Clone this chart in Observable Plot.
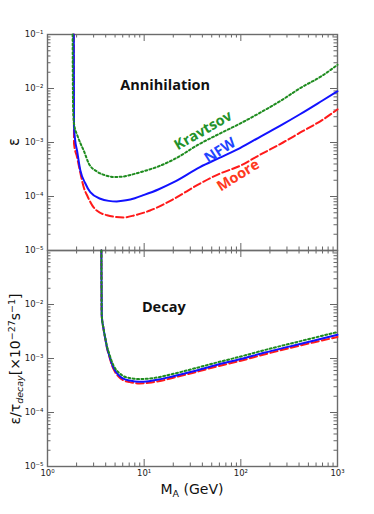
<!DOCTYPE html>
<html><head><meta charset="utf-8">
<script src="https://cdn.jsdelivr.net/npm/d3@7"></script>
<script src="https://cdn.jsdelivr.net/npm/@observablehq/plot@0.6"></script>
<style>
body{margin:0;background:#fff;}
#wrap{position:relative;width:374px;height:514px;background:#fff;}
#wrap svg{position:absolute;left:0;}
</style></head><body><div id="wrap"></div>
<script>
// ---------- data: annihilation panel ----------
const annMassNFW = [1.87,1.875,1.88,1.93,2.02,2.19,2.45,2.77,3.52,4.3,5.2,6.5,8,10,14,20,37.8,60,98,160,273,405,700,1000];
const annEpsNFW  = [0.1,1e-2,2.0e-3,1.12e-3,7.1e-4,3.0e-4,1.78e-4,1.2e-4,9.1e-5,8.3e-5,8.1e-5,8.5e-5,9.3e-5,1.07e-4,1.35e-4,1.82e-4,3.5e-4,5.2e-4,7.9e-4,1.29e-3,2.19e-3,3.3e-3,6.0e-3,8.9e-3];
const annMassKrav = [1.82,1.83,1.85,1.9,2.02,2.2,2.37,2.67,3.25,4.0,4.8,6,8,10,14,20,37.8,60,98,160,273,405,700,1000];
const annEpsKrav  = [0.1,1e-2,3.16e-3,2.0e-3,1.41e-3,9.5e-4,7.1e-4,4.1e-4,2.9e-4,2.45e-4,2.3e-4,2.34e-4,2.63e-4,2.95e-4,3.6e-4,4.8e-4,9.5e-4,1.45e-3,2.24e-3,3.6e-3,6.3e-3,1.0e-2,1.74e-2,2.75e-2];
const annMassMoore = [1.87,1.875,1.88,2.02,2.2,2.37,2.6,3.0,3.5,4.13,5,6.1,8,11.5,20,37.8,60,98,160,273,405,700,1000];
const annEpsMoore  = [0.1,1e-2,9.5e-4,5.4e-4,2.6e-4,1.48e-4,1.0e-4,6.3e-5,5.0e-5,4.5e-5,4.2e-5,4.1e-5,4.5e-5,5.5e-5,8.9e-5,1.74e-4,2.63e-4,3.7e-4,6.0e-4,1.0e-3,1.5e-3,2.63e-3,4.1e-3];

// ---------- data: decay panel ----------
const decMass = [3.61,3.62,3.64,3.8,3.98,4.12,4.37,4.65,5.0,5.4,6.0,7.1,8.9,11.2,14.1,20,31.6,56,100,178,316,562,1000];
const decNFW   = [0.1,2.5e-2,6.3e-3,3.55e-3,2.24e-3,1.62e-3,1.12e-3,7.9e-4,6.0e-4,5.0e-4,4.27e-4,3.9e-4,3.7e-4,3.8e-4,4.07e-4,4.7e-4,5.75e-4,7.6e-4,9.8e-4,1.29e-3,1.66e-3,2.14e-3,2.75e-3];
const decKrav  = [0.1,2.5e-2,6.3e-3,3.6e-3,2.3e-3,1.7e-3,1.2e-3,8.6e-4,6.6e-4,5.6e-4,4.8e-4,4.35e-4,4.15e-4,4.25e-4,4.5e-4,5.2e-4,6.4e-4,8.4e-4,1.09e-3,1.44e-3,1.86e-3,2.4e-3,3.1e-3];
const decMoore = [0.1,2.5e-2,6.3e-3,3.5e-3,2.2e-3,1.58e-3,1.07e-3,7.4e-4,5.6e-4,4.7e-4,4.0e-4,3.65e-4,3.45e-4,3.55e-4,3.8e-4,4.4e-4,5.4e-4,7.1e-4,9.1e-4,1.2e-3,1.55e-3,1.98e-3,2.5e-3];

// ---------- ticks ----------
const yTickValues = [1e-1,1e-2,1e-3,1e-4,1e-5];
const yTickLabels = ["10⁻¹","10⁻²","10⁻³","10⁻⁴","10⁻⁵"];
const yTickValuesBottom = [1e-2,1e-3,1e-4,1e-5];
const xTickValues = [1,10,100,1000];
const xTickLabels = ["10⁰","10¹","10²","10³"];
const minorMult = [2,3,4,5,6,7,8,9];
const yMinor = [1e-5,1e-4,1e-3,1e-2].flatMap(p => minorMult.map(m => m*p));
const xMinor = [1,10,100].flatMap(p => minorMult.map(m => m*p));

// ---------- annotations ----------
const topLabels = [
  {text:"Annihilation", mass:5.66, eps:1.14e-2, color:"#111", rotate:0, anchor:"start"},
  {text:"Kravtsov", mass:40.8, eps:1.66e-3, color:"#22922a", rotate:-30, anchor:"middle"},
  {text:"NFW", mass:60.8, eps:7.1e-4, color:"#1f45ff", rotate:-33, anchor:"middle"},
  {text:"Moore", mass:93.8, eps:2.45e-4, color:"#ff3a1e", rotate:-32, anchor:"middle"}
];
const bottomLabels = [
  {text:"Decay", mass:9.47, eps:8.9e-3, color:"#111", rotate:0, anchor:"start"}
];

const C_GREEN = "#1f8c1f", C_BLUE = "#1212ff", C_RED = "#ff1a1a";
const W = 374, ML = 47, MR = 37, IW = W - ML - MR, IH = 216;
const tickC = "#666";

function frameTicks() {
  return [
    Plot.tickY(yTickValues, {y: d => d, insetRight: IW - 7, stroke: tickC}),
    Plot.tickY(yTickValues, {y: d => d, insetLeft: IW - 7, stroke: tickC}),
    Plot.tickY(yMinor, {y: d => d, insetRight: IW - 3.5, stroke: tickC}),
    Plot.tickY(yMinor, {y: d => d, insetLeft: IW - 3.5, stroke: tickC}),
    Plot.tickX(xTickValues, {x: d => d, insetBottom: IH - 7, stroke: tickC}),
    Plot.tickX(xTickValues, {x: d => d, insetTop: IH - 7, stroke: tickC}),
    Plot.tickX(xMinor, {x: d => d, insetBottom: IH - 3.5, stroke: tickC}),
    Plot.tickX(xMinor, {x: d => d, insetTop: IH - 3.5, stroke: tickC}),
    Plot.frame({stroke: "#6b6b6b", strokeWidth: 1.4})
  ];
}

function seriesLines(mR, vR, mB, vB, mG, vG) {
  const t = (m, v) => m.map((d, i) => ({m: d, v: v[i]}));
  return [
    Plot.line(t(mR, vR), {x: "m", y: "v", stroke: C_RED, strokeWidth: 2, strokeDasharray: "7.4,3.2", curve: "monotone-x"}),
    Plot.line(t(mB, vB), {x: "m", y: "v", stroke: C_BLUE, strokeWidth: 2, curve: "monotone-x"}),
    Plot.line(t(mG, vG), {x: "m", y: "v", stroke: C_GREEN, strokeWidth: 2, strokeDasharray: "2,2.4", curve: "monotone-x"})
  ];
}

function labelMarks(labels) {
  return labels.map(l => Plot.text([l], {
    x: "mass", y: "eps", text: "text", fill: l.color, rotate: l.rotate,
    textAnchor: l.anchor, fontWeight: "bold", fontSize: 14.5,
    fontFamily: "Open Sans", lineAnchor: "middle"
  }));
}

const common = {
  width: W, marginLeft: ML, marginRight: MR,
  x: {type: "log", domain: [1, 1000], axis: null},
  y: {type: "log", domain: [1e-5, 1e-1], axis: null},
  style: {background: "transparent", overflow: "visible", fontFamily: "DejaVu Sans", color: "#222"}
};

const topPlot = Plot.plot({
  ...common, height: 256, marginTop: 34, marginBottom: 6,
  marks: [
    ...frameTicks(),
    Plot.axisY(yTickValues, {tickSize: 0, tickPadding: 4, fontSize: 8.5,
      tickFormat: d => yTickLabels[yTickValues.indexOf(d)], label: null}),
    ...seriesLines(annMassMoore, annEpsMoore, annMassNFW, annEpsNFW, annMassKrav, annEpsKrav),
    ...labelMarks(topLabels)
  ]
});

const bottomPlot = Plot.plot({
  ...common, height: 270, marginTop: 6, marginBottom: 48,
  marks: [
    ...frameTicks(),
    Plot.axisY(yTickValuesBottom, {tickSize: 0, tickPadding: 4, fontSize: 8.5,
      tickFormat: d => yTickLabels[yTickValues.indexOf(d)], label: null}),
    Plot.axisX(xTickValues, {tickSize: 0, tickPadding: 3, fontSize: 8.5,
      tickFormat: d => xTickLabels[xTickValues.indexOf(d)], label: null}),
    ...seriesLines(decMass, decMoore, decMass, decNFW, decMass, decKrav),
    ...labelMarks(bottomLabels)
  ]
});

const wrap = document.getElementById("wrap");
topPlot.style.top = "0px";
bottomPlot.style.top = "244px";
wrap.appendChild(topPlot);
wrap.appendChild(bottomPlot);

// axis titles (real text with sub/superscripts)
const st = d3.select(topPlot);
st.append("text")
  .attr("transform", "translate(14,142) rotate(-90)")
  .attr("text-anchor", "middle").attr("dy", "0.35em")
  .attr("font-family", "DejaVu Sans").attr("font-size", 15).attr("fill", "#111")
  .text("ε");

const sb = d3.select(bottomPlot);
const yl = sb.append("text")
  .attr("transform", "translate(15,115) rotate(-90)")
  .attr("text-anchor", "middle").attr("dy", "0.35em")
  .attr("font-family", "DejaVu Sans").attr("font-size", 14).attr("fill", "#111");
yl.append("tspan").text("ε/τ");
yl.append("tspan").attr("font-size", 9.5).attr("font-style", "italic").attr("dy", 3).text("decay");
yl.append("tspan").attr("dy", -3).text("[×10");
yl.append("tspan").attr("font-size", 9.5).attr("dy", -5).text("−27");
yl.append("tspan").attr("dy", 5).text("s");
yl.append("tspan").attr("font-size", 9.5).attr("dy", -5).text("−1");
yl.append("tspan").attr("dy", 5).text("]");

const xl = sb.append("text")
  .attr("x", ML + IW / 2).attr("y", 250)
  .attr("text-anchor", "middle")
  .attr("font-family", "DejaVu Sans").attr("font-size", 14).attr("fill", "#111");
xl.append("tspan").text("M");
xl.append("tspan").attr("font-size", 9.5).attr("dy", 3).text("A");
xl.append("tspan").attr("dy", -3).text(" (GeV)");
</script></body></html>
